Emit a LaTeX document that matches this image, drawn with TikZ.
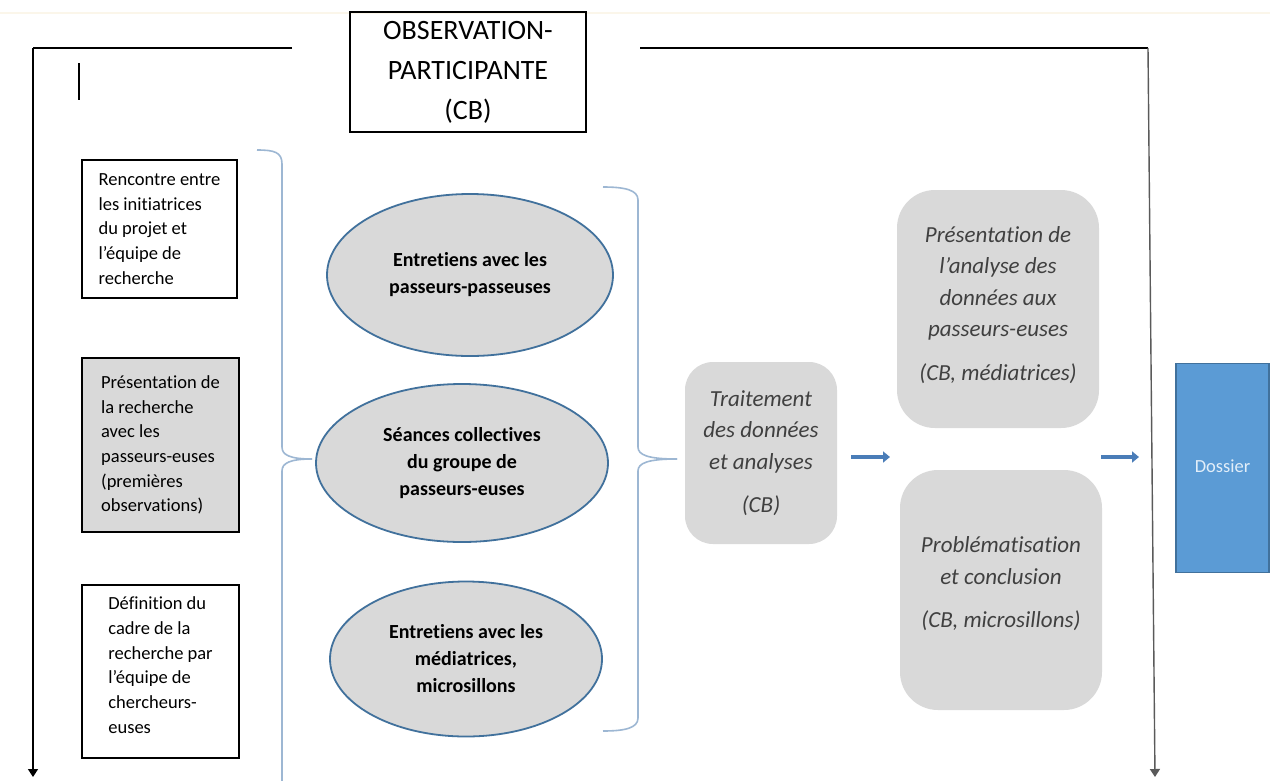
\documentclass[tikz,border=0pt]{standalone}
\usepackage{fontspec}
\setmainfont{Carlito}[Ligatures=NoCommon]
\usetikzlibrary{shapes.geometric,arrows.meta}
\definecolor{greyfill}{HTML}{D9D9D9}
\definecolor{ellborder}{HTML}{41719C}
\definecolor{bracecol}{HTML}{9DB7D3}
\definecolor{softtext}{HTML}{404040}
\definecolor{arrowblue}{HTML}{4A7DB8}
\definecolor{dossierfill}{HTML}{5B9BD5}
\definecolor{dossierborder}{HTML}{41719C}
\definecolor{dossiertext}{HTML}{E2EEF9}
\definecolor{faintline}{HTML}{FBF6EA}
\definecolor{rightline}{HTML}{5A5A5A}
\tikzset{
  frameline/.style={line width=1.4pt, draw=black},
  framearrow/.style={line width=1.4pt, -{Triangle[length=8pt,width=10pt]}},
  leftbox/.style={draw=black, line width=1.2pt, minimum width=155pt, align=left,
    font=\fontsize{18.5}{24.7}\selectfont, inner sep=0pt},
  ellbox/.style={ellipse, draw=ellborder, fill=greyfill, line width=1.8pt,
    align=center, font=\bfseries\fontsize{20}{27}\selectfont, inner sep=0pt},
  softbox/.style={fill=greyfill, align=center, text=softtext,
    font=\itshape\fontsize{23}{31.5}\selectfont, inner sep=0pt},
  bracestyle/.style={draw=bracecol, line width=1.6pt},
  bluearrow/.style={draw=arrowblue, line width=4.5pt, -{Triangle[length=7pt,width=11pt]}},
}
\begin{document}
\begin{tikzpicture}[x=1pt,y=-1pt]
\useasboundingbox (0,0) rectangle (1270,780);
\fill[white] (0,0) rectangle (1270,780);
\draw[faintline, line width=2pt] (0,13) -- (1270,13);

% title box
\node[draw=black, line width=1.2pt, minimum width=236pt, minimum height=120pt,
  align=center, inner sep=0pt, font=\fontsize{28}{40}\selectfont] (obs) at (468,72)
  {OBSERVATION-\\PARTICIPANTE\\(CB)};

% frame
\coordinate (tl) at (33,48);
\coordinate (tlend) at (292,48);
\coordinate (bl) at (33,777);
\coordinate (trstart) at (640,48);
\coordinate (tr) at (1148,48);
\coordinate (br) at (1155,777);
\draw[frameline] (tlend) -- (tl);
\draw[framearrow] (tl) -- (bl);
\draw[frameline] (trstart) -- (tr);
\draw[framearrow, draw=rightline] (tr) -- (br);
\coordinate (ticka) at (79,63);
\coordinate (tickb) at (79,100);
\draw[line width=1.2pt] (ticka) -- (tickb);

% left boxes
\node[leftbox, minimum height=138pt] (b1) at (159.5,229)
  {Rencontre entre\\les initiatrices\\du projet et\\l’équipe de\\recherche};
\node[leftbox, fill=greyfill, minimum width=157pt, minimum height=174pt] (b2) at (160.5,445)
  {Présentation de\\la recherche\\avec les\\passeurs-euses\\(premières\\observations)};
\node[leftbox, minimum width=157pt, minimum height=173pt] (b3) at (160.5,671.5)
  {Définition du\\cadre de la\\recherche par\\l’équipe de\\chercheurs-\\euses\\[-12pt]{}};

% brace 1
\draw[bracestyle] (257,150) .. controls (274,150) and (282,152) .. (282,164)
  -- (282,447) .. controls (282,455) and (290,459) .. (312,459);
\draw[bracestyle] (312,459) .. controls (290,459) and (282,463) .. (282,471) -- (282,781);

% ellipses
\node[ellbox, minimum width=286pt, minimum height=162pt] (e1) at (470,275)
  {Entretiens avec les\\passeurs-passeuses};
\node[ellbox, minimum width=292pt, minimum height=158pt] (e2) at (462,463)
  {Séances collectives\\du groupe de\\passeurs-euses};
\node[ellbox, minimum width=272pt, minimum height=155pt] (e3) at (466,659)
  {Entretiens avec les\\médiatrices,\\microsillons};

% brace 2
\draw[bracestyle] (603,187) .. controls (625,187) and (638,190) .. (638,200)
  -- (638,447) .. controls (638,455) and (648,459) .. (677,459);
\draw[bracestyle] (677,459) .. controls (648,459) and (638,463) .. (638,471)
  -- (638,718) .. controls (638,728) and (625,731) .. (603,731);

% treatment
\node[softbox, rounded corners=28pt, minimum width=152pt, minimum height=182pt] (tr1) at (761,453)
  {Traitement\\des données\\et analyses\\[12pt](CB)};
\node[softbox, rounded corners=38pt, minimum width=202pt, minimum height=238pt] (pres) at (998,309)
  {Présentation de\\l’analyse des\\données aux\\passeurs-euses\\[12pt](CB, médiatrices)\\[-20pt]{}};
\node[softbox, rounded corners=38pt, minimum width=202pt, minimum height=240pt] (prob) at (1001,590)
  {Problématisation\\et conclusion\\[12pt](CB, microsillons)\\[-16pt]{}};

% dossier
\node[draw=dossierborder, fill=dossierfill, line width=1.4pt, minimum width=93pt,
  minimum height=209pt, text=dossiertext, font=\fontsize{18.5}{22}\selectfont] (dos) at (1222.5,468)
  {\raisebox{4pt}{Dossier}};

% blue arrows
\coordinate (a1s) at (851,457);
\coordinate (a1e) at (890,457);
\coordinate (a2s) at (1101,457);
\coordinate (a2e) at (1139,457);
\draw[bluearrow] (a1s) -- (a1e);
\draw[bluearrow] (a2s) -- (a2e);
\end{tikzpicture}
\end{document}
